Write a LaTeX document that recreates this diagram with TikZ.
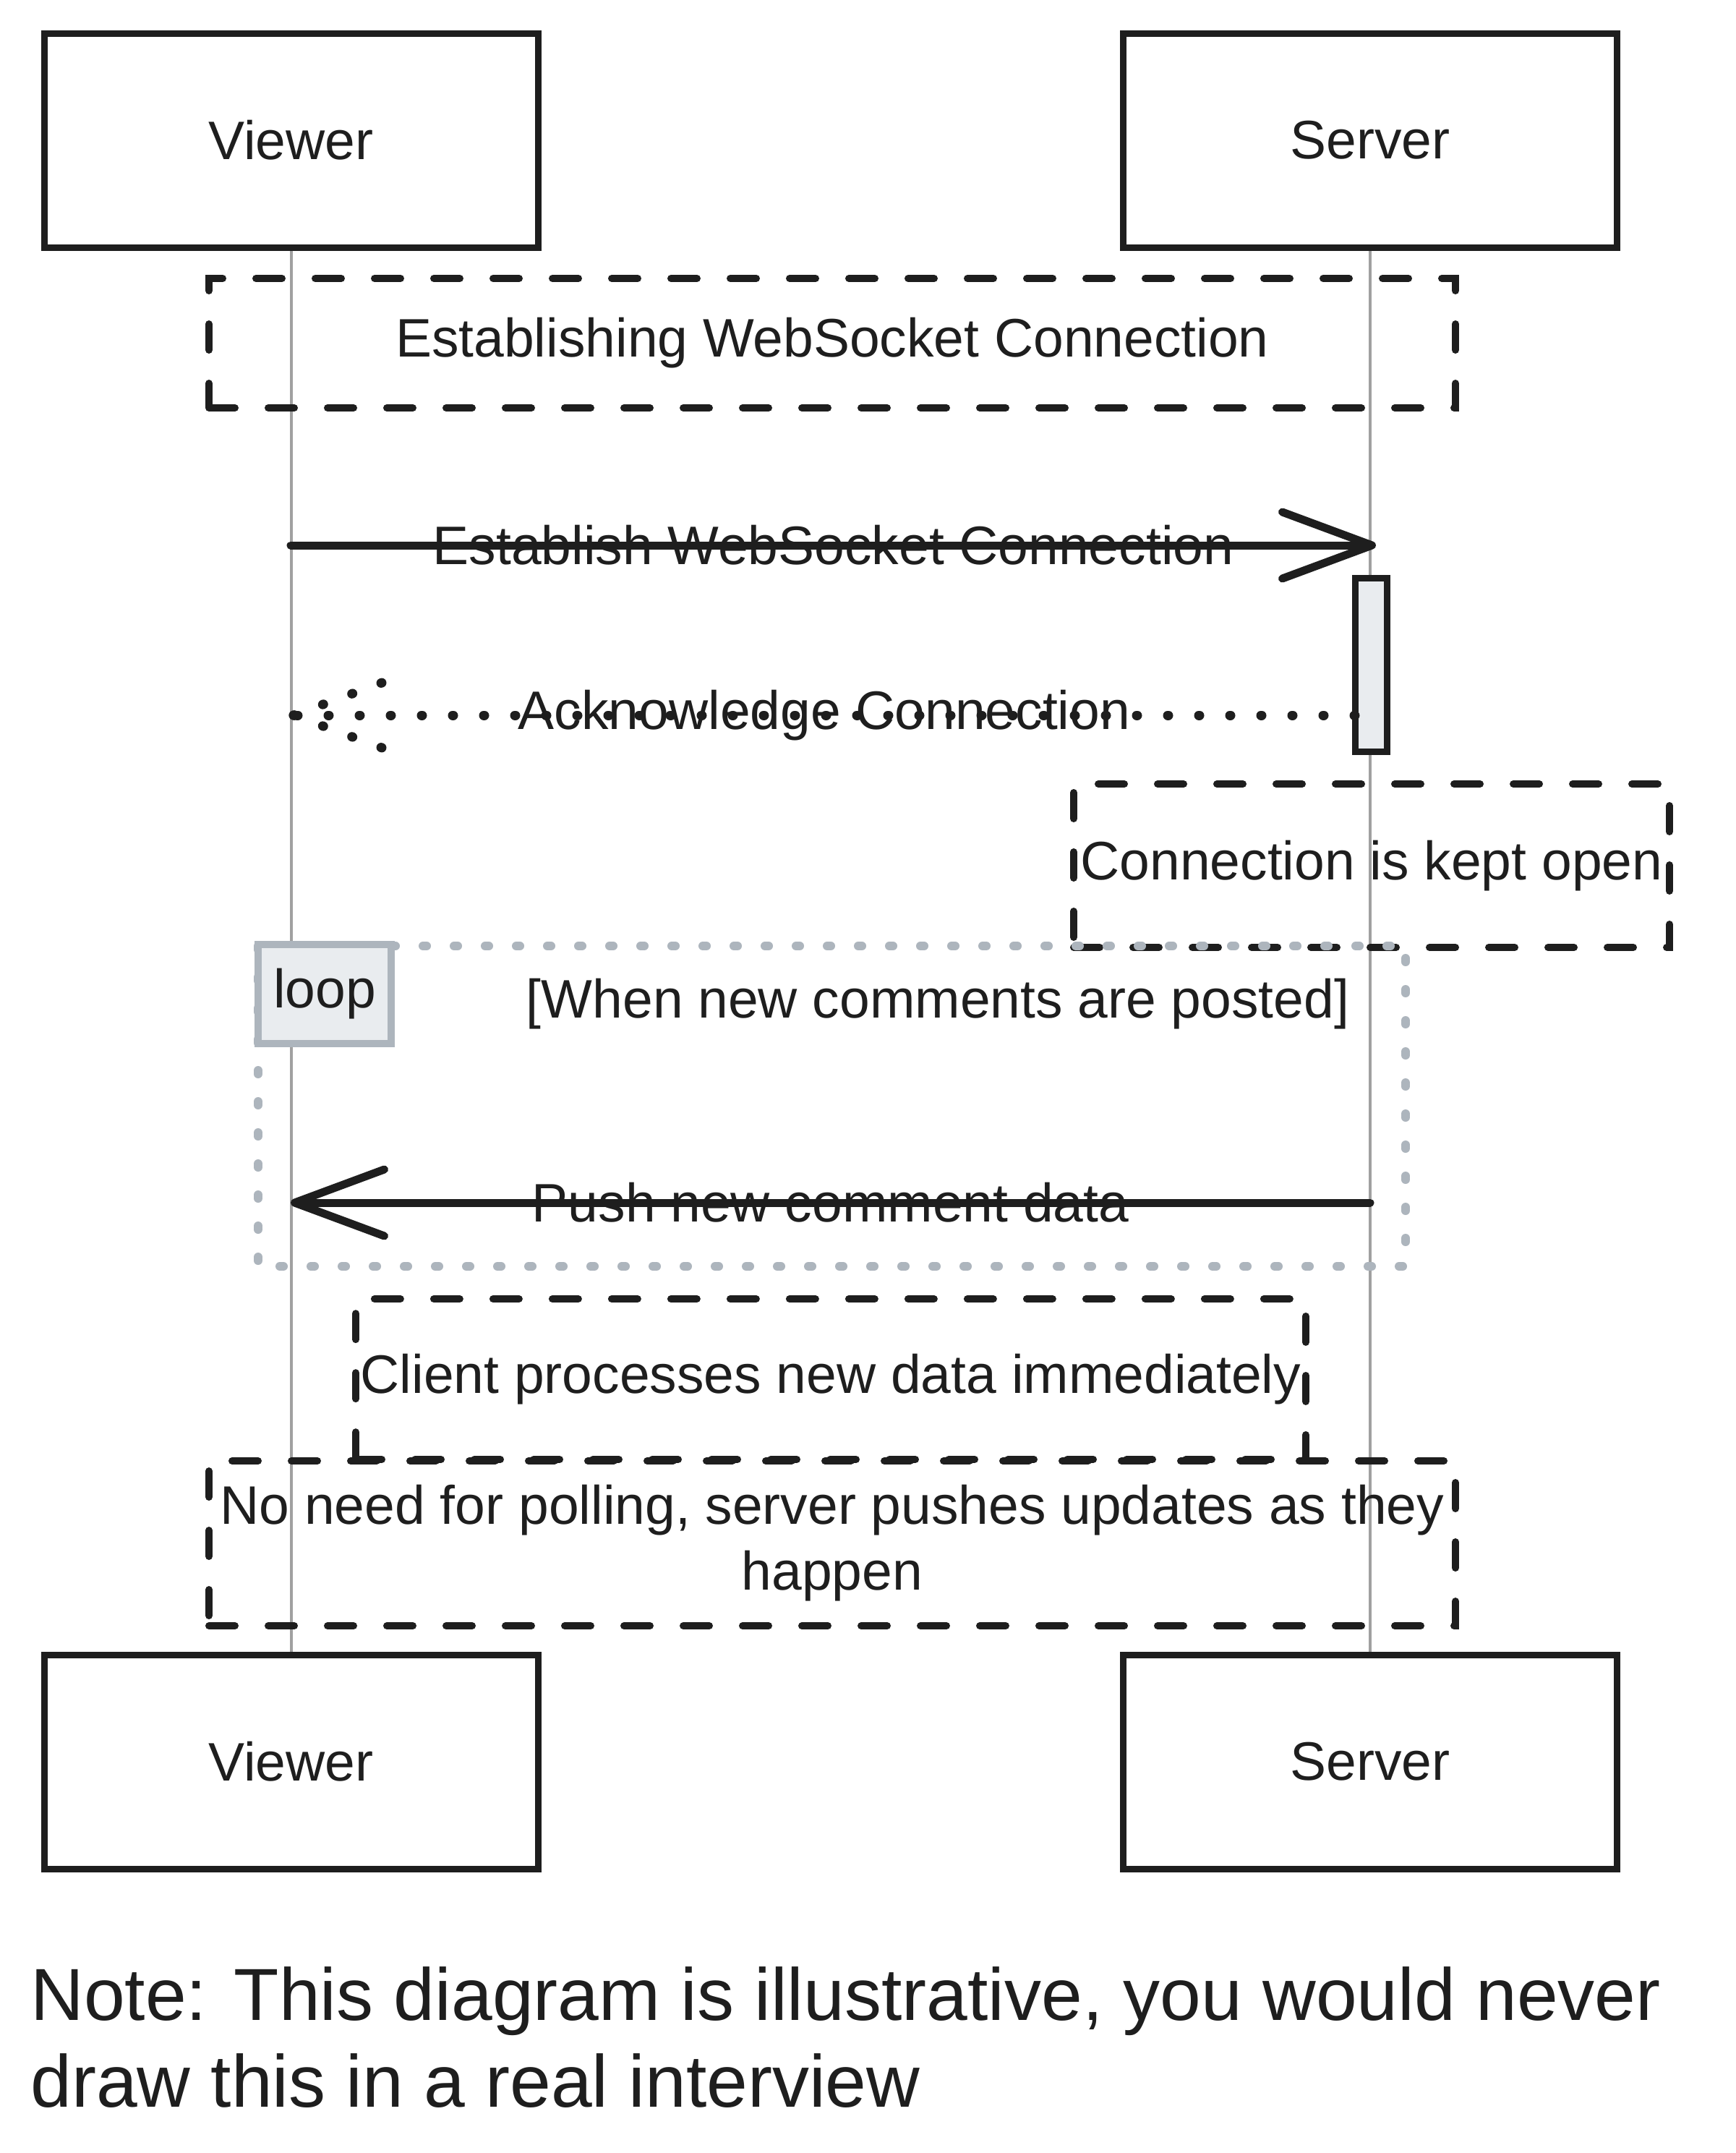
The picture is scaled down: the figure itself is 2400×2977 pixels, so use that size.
\documentclass[tikz,border=0pt]{standalone}
\usepackage{fontspec}
\setmainfont{Liberation Sans}
\usetikzlibrary{arrows.meta}
\definecolor{ink}{HTML}{1E1E1E}
\definecolor{life}{HTML}{A0A0A0}
\definecolor{actfill}{HTML}{E9ECEF}
\definecolor{loopgray}{HTML}{ADB5BD}
\begin{document}
\begin{tikzpicture}[x=0.5pt,y=-0.5pt,
  txt/.style={font=\fontsize{37.5}{45.5}\selectfont, text=ink},
  actor/.style={draw=ink, line width=4.5pt, fill=white, minimum width=341.5pt, minimum height=148pt, txt},
  lifeline/.style={draw=life, line width=2pt},
  notebox/.style={draw=ink, line width=5pt, dash pattern=on 18pt off 23pt, line cap=round, txt, align=center},
  msg/.style={draw=ink, line width=5.5pt, line cap=round, -{Straight Barb[length=62pt,width=46pt,round]}},
  reply/.style={draw=ink, line width=6.5pt, line cap=round, dash pattern=on 0.5pt off 21pt},
  loopframe/.style={draw=loopgray, line width=6pt, line cap=round, dash pattern=on 2.5pt off 19pt},
  looplabel/.style={draw=loopgray, line width=5pt, fill=actfill, minimum width=92pt, minimum height=68.5pt, txt},
  actbar/.style={draw=ink, line width=4.5pt, fill=actfill, minimum width=22pt, minimum height=120pt, inner sep=0pt},
  label/.style={txt, inner sep=0pt}
]
\fill[white] (0,0) rectangle (2400,2977);
\path[use as bounding box] (0,0) rectangle (2400,2977);

% actors
\node[actor] (vt) at (402.5,194) {Viewer};
\node[actor] (st) at (1895,194) {Server};
\node[actor] (vb) at (402.5,2436) {Viewer};
\node[actor] (sb) at (1895,2436) {Server};

% lifelines
\draw[lifeline] (vt.south) -- (vb.north);
\draw[lifeline] (st.south) -- (sb.north);

% establishing note
\node[notebox, minimum width=862pt, minimum height=89.5pt] (n1) at (1151,474.5) {Establishing WebSocket Connection};

% activation bar
\node[actbar] (act) at (1896,919) {};

% message 1
\coordinate (m1s) at (402,754);
\coordinate (m1e) at (1903,754);
\draw[msg] (m1s) -- node[label] {Establish WebSocket Connection} (m1e);

% reply
\coordinate (r1s) at (1874,989);
\coordinate (r1e) at (406,989);
\draw[reply] (r1s) -- node[label] {Acknowledge Connection} (r1e);
\draw[reply] (r1e) -- ++(125,-46);
\draw[reply] (r1e) -- ++(125,46);

% connection kept open
\node[notebox, minimum width=412pt, minimum height=113pt] (n2) at (1897,1197) {Connection is kept open};

% loop frame
\draw[loopframe] (357,1308) rectangle (1944,1751);
\node[looplabel] (lp) at (449,1374.5) {loop};
\node[label] (cond) at (1297,1388) {[When new comments are posted]};

% push message
\coordinate (m2s) at (1895,1663);
\coordinate (m2e) at (402,1663);
\draw[msg] (m2s) -- node[label] {Push new comment data} (m2e);

% client processes note
\node[notebox, minimum width=634pt, minimum height=111pt] (n3) at (1149,1907) {Client processes new data immediately};

% polling note
\node[notebox, minimum width=862pt, minimum height=114pt] (n4) at (1151,2134) {No need for polling, server pushes updates as they\\happen};

% footnote
\node[anchor=west, align=left, inner sep=0pt, text=ink, font=\fontsize{51}{60}\selectfont] (note) at (42,2817) {Note: This diagram is illustrative, you would never\\draw this in a real interview};
\end{tikzpicture}
\end{document}
